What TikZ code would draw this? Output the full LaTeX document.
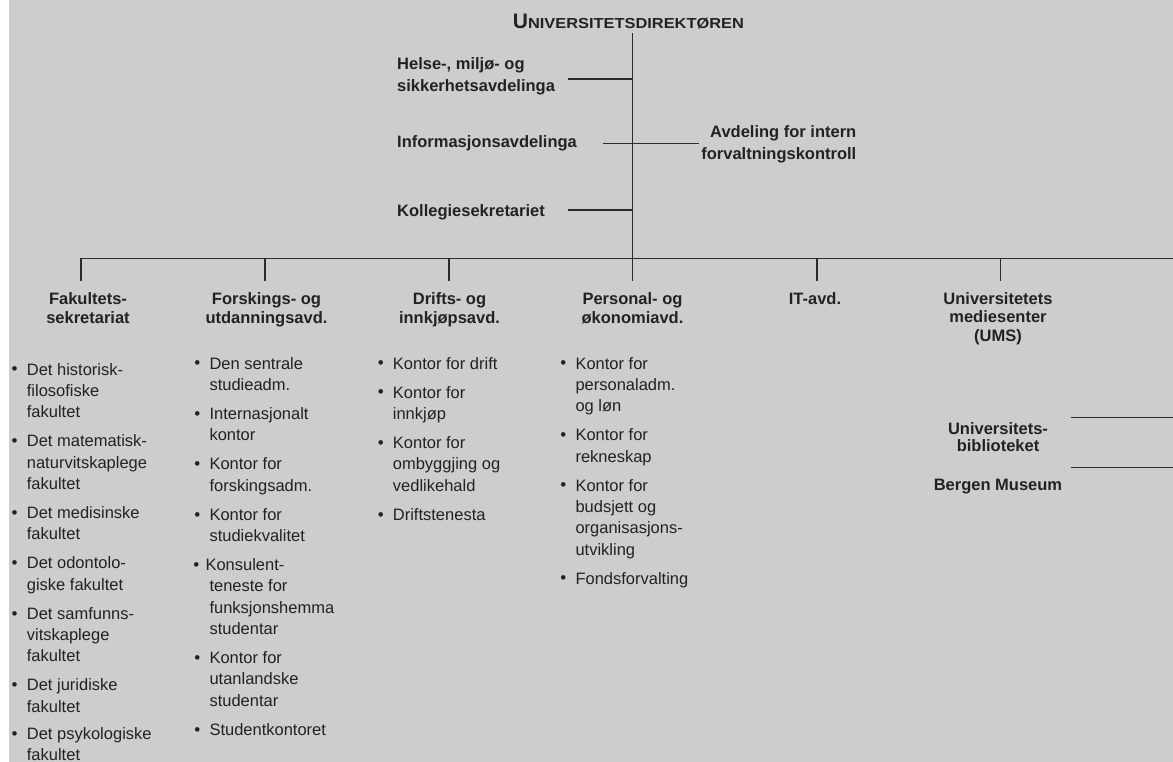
\documentclass[tikz,border=0pt]{standalone}
\usepackage{fontspec}
\setmainfont{Liberation Sans}
\definecolor{bg}{HTML}{CDCDCD}
\definecolor{ink}{HTML}{222222}
\definecolor{ln}{HTML}{2B2B2B}
\newcommand{\bul}{\llap{\raisebox{0.2pt}{\fontsize{17}{17}\selectfont\textbullet}\hspace{9.2pt}}}
\newcommand{\bulb}{\hspace*{-4pt}\llap{\raisebox{0.2pt}{\fontsize{17}{17}\selectfont\textbullet}\hspace{6.2pt}}}
\tikzset{
  item/.style={anchor=base west, align=left, inner sep=0pt, text=ink, font=\fontsize{16.5}{21.3}\selectfont},
  hdr/.style={anchor=base, align=center, inner sep=0pt, text=ink, font=\bfseries\fontsize{16.5}{18.5}\selectfont},
  lbl/.style={anchor=base west, align=left, inner sep=0pt, text=ink, font=\bfseries\fontsize{16.5}{22.4}\selectfont},
  conn/.style={draw=ln, line width=1.4pt},
}
\begin{document}
\begin{tikzpicture}[x=1pt,y=-1pt]
\useasboundingbox (0,0) rectangle (1173,762);
\fill[white] (0,0) rectangle (8.5,762);
\fill[bg] (8.5,0) rectangle (1173,762);

% title
\node[anchor=base, inner sep=0pt, text=ink, font=\bfseries] (dir) at (628.4,29)
  {{\fontsize{21}{21}\selectfont U}\scalebox{1.13}[1]{\fontsize{14.5}{14.5}\selectfont NIVERSITETSDIREKTØREN}};

% staff units (y = baseline of last line)
\node[lbl] (hms) at (397,91.7) {Helse-, miljø- og\\sikkerhetsavdelinga};
\node[lbl] (info) at (397,147.3) {Informasjonsavdelinga};
\node[lbl] (koll) at (397,216.7) {Kollegiesekretariet};
\node[lbl, anchor=base east, align=right, font=\bfseries\fontsize{16.5}{22}\selectfont] (intern) at (856.5,159.3) {Avdeling for intern\\forvaltningskontroll};

% main spine
\coordinate (vtop) at (632.5,33);
\coordinate (bar) at (632.5,258.3);
\draw[conn] (vtop) -- (bar);
\coordinate (jh) at (632.5,79);
\coordinate (jhe) at (568.3,79);
\coordinate (ji) at (632.5,143.3);
\coordinate (jie) at (603.3,143.3);
\coordinate (jir) at (699,143.3);
\coordinate (jk) at (632.5,210);
\coordinate (jke) at (568.3,210);
\draw[conn] (jh) -- (jhe);
\draw[conn] (jie) -- (jir);
\draw[conn] (jk) -- (jke);

% horizontal bar
\coordinate (barL) at (81,258.3);
\coordinate (barR) at (1173,258.3);
\draw[conn] (barL) -- (barR);
\foreach \x/\n in {81/a,265/b,449/c,632.5/d,817/e,1000.7/f}{
  \coordinate (top\n) at (\x,258.3);
  \coordinate (bot\n) at (\x,280.7);
  \draw[conn] (top\n) -- (bot\n);
}

% line units
\node[hdr] (fak) at (88,323) {Fakultets-\\sekretariat};
\node[hdr] (fou) at (266.5,323) {Forskings- og\\utdanningsavd.};
\node[hdr] (dri) at (449.5,323) {Drifts- og\\innkjøpsavd.};
\node[hdr] (pers) at (632.5,323) {Personal- og\\økonomiavd.};
\node[hdr] (it) at (815,304.5) {IT-avd.};
\node[hdr] (ums) at (998,341) {Universitetets\\mediesenter\\(UMS)};

% library and museum
\node[hdr, font=\bfseries\fontsize{16.5}{17.7}\selectfont] (ub) at (998,451.7) {Universitets-\\biblioteket};
\node[hdr] (bm) at (998,490) {Bergen Museum};
\coordinate (ubl) at (1070.7,417.7);
\coordinate (ubr) at (1173,417.7);
\coordinate (bml) at (1070.7,467.3);
\coordinate (bmr) at (1173,467.3);
\draw[conn] (ubl) -- (ubr);
\draw[conn] (bml) -- (bmr);

% column 1
\node[item] (f1) at (26.7,417.6) {\bul Det historisk-\\filosofiske\\fakultet};
\node[item] (f2) at (26.7,489.3) {\bul Det matematisk-\\naturvitskaplege\\fakultet};
\node[item] (f3) at (26.7,539.7) {\bul Det medisinske\\fakultet};
\node[item] (f4) at (26.7,590.1) {\bul Det odontolo-\\giske fakultet};
\node[item] (f5) at (26.7,661.8) {\bul Det samfunns-\\vitskaplege\\fakultet};
\node[item] (f6) at (26.7,712.2) {\bul Det juridiske\\fakultet};
\node[item] (f7) at (26.7,760.6) {\bul Det psykologiske\\fakultet};

% column 2
\node[item] (u1) at (209.3,390.3) {\bul Den sentrale\\studieadm.};
\node[item] (u2) at (209.3,440.7) {\bul Internasjonalt\\kontor};
\node[item] (u3) at (209.3,491.1) {\bul Kontor for\\forskingsadm.};
\node[item] (u4) at (209.3,541.5) {\bul Kontor for\\studiekvalitet};
\node[item] (u5) at (209.3,634.5) {\bulb Konsulent-\\teneste for\\funksjonshemma\\studentar};
\node[item] (u6) at (209.3,706.2) {\bul Kontor for\\utanlandske\\studentar};
\node[item] (u7) at (209.3,735.3) {\bul Studentkontoret};

% column 3
\node[item] (k1) at (392.7,369) {\bul Kontor for drift};
\node[item] (k2) at (392.7,419.4) {\bul Kontor for\\innkjøp};
\node[item] (k3) at (392.7,491.1) {\bul Kontor for\\ombyggjing og\\vedlikehald};
\node[item] (k4) at (392.7,520.2) {\bul Driftstenesta};

% column 4
\node[item] (p1) at (575.3,411.6) {\bul Kontor for\\personaladm.\\og løn};
\node[item] (p2) at (575.3,462) {\bul Kontor for\\rekneskap};
\node[item] (p3) at (575.3,555) {\bul Kontor for\\budsjett og\\organisasjons-\\utvikling};
\node[item] (p4) at (575.3,584.1) {\bul Fondsforvalting};
\end{tikzpicture}
\end{document}
